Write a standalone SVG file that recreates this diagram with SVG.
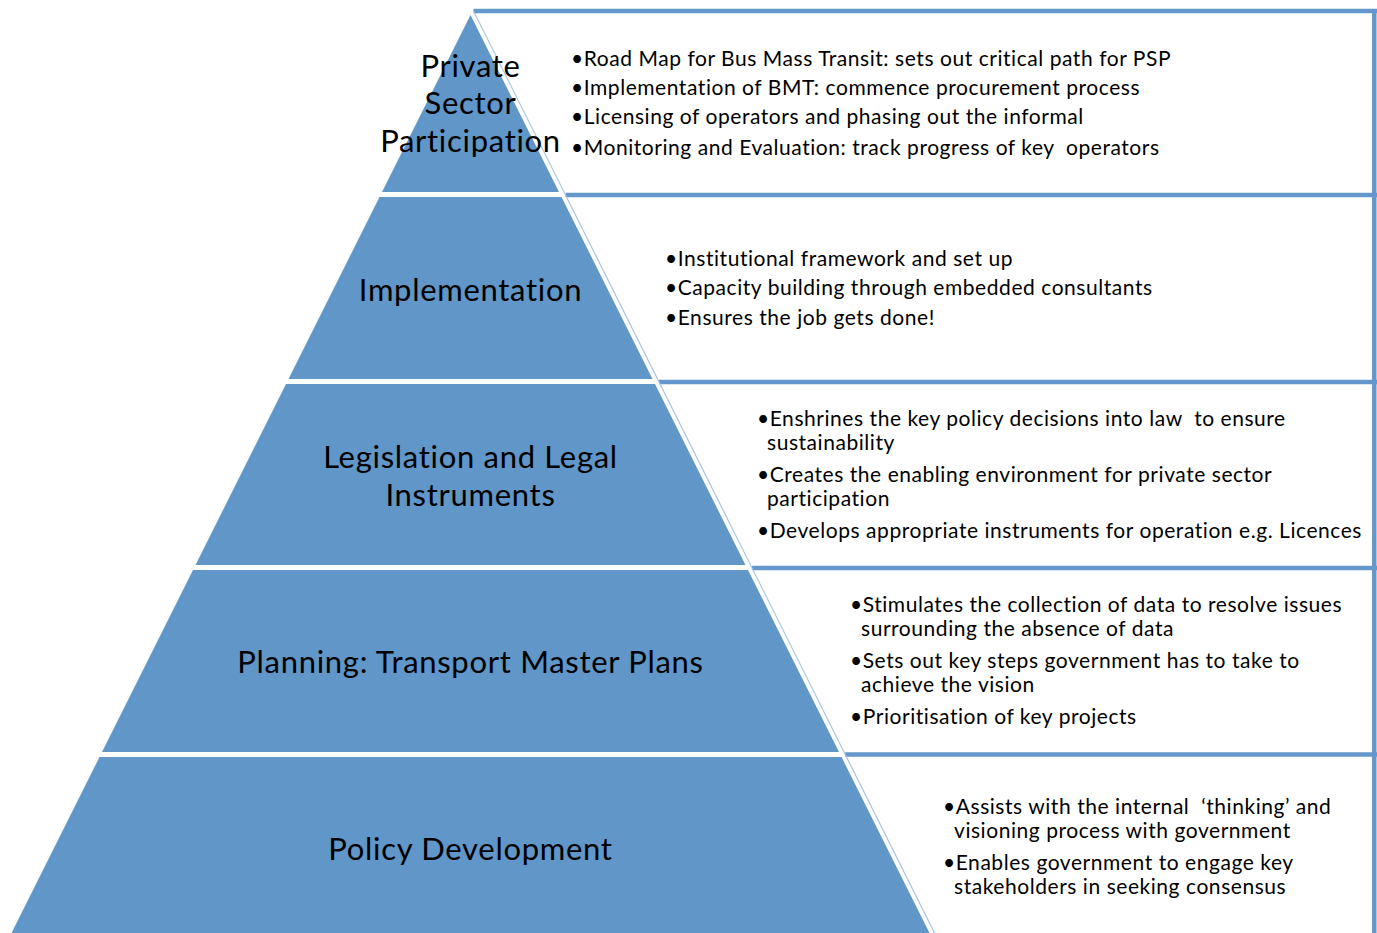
<svg xmlns="http://www.w3.org/2000/svg" width="1377" height="933" viewBox="0 0 1377 933">
<style>
.tier{fill:#6096C8;}
.bar{stroke:#6497CB;stroke-width:4.5;fill:none;}
.thin{stroke:#A9C5E4;stroke-width:1.2;fill:none;}
.lab{font-family:Lato,"Liberation Sans",sans-serif;font-size:31px;letter-spacing:0.7px;fill:#000;text-anchor:middle;}
.txt{font-family:Lato,"Liberation Sans",sans-serif;font-size:21px;letter-spacing:0.55px;fill:#000;white-space:pre;}
</style>
<rect width="1377" height="933" fill="#fff"/>
<g id="boxes">
<line class="bar" x1="473.5" y1="11" x2="1377" y2="11"/>
<line class="bar" x1="565.5" y1="195" x2="1377" y2="195"/>
<line class="bar" x1="659" y1="382" x2="1377" y2="382"/>
<line class="bar" x1="752" y1="568" x2="1377" y2="568"/>
<line class="bar" x1="845" y1="754.5" x2="1377" y2="754.5"/>
<line class="bar" x1="1374.3" y1="9" x2="1374.3" y2="933" stroke-width="5"/>
<line class="thin" x1="473.5" y1="11" x2="937" y2="938"/>
</g>
<g id="tier-psp">
<polygon class="tier" points="470.5,15 559,192 382,192"/>
<text class="lab" x="470.5" y="77">Private</text>
<text class="lab" x="470.5" y="114">Sector</text>
<text class="lab" x="470.5" y="152">Participation</text>
<text class="txt" x="571" y="66">•Road Map for Bus Mass Transit: sets out critical path for PSP</text>
<text class="txt" x="571" y="95">•Implementation of BMT: commence procurement process</text>
<text class="txt" x="571" y="124">•Licensing of operators and phasing out the informal</text>
<text class="txt" x="571" y="155">•Monitoring and Evaluation: track progress of key  operators</text>
</g>
<g id="tier-implementation">
<polygon class="tier" points="379.5,197 561.5,197 652.5,379 288.5,379"/>
<text class="lab" x="470.5" y="301">Implementation</text>
<text class="txt" x="665" y="266">•Institutional framework and set up</text>
<text class="txt" x="665" y="295">•Capacity building through embedded consultants</text>
<text class="txt" x="665" y="325">•Ensures the job gets done!</text>
</g>
<g id="tier-legislation">
<polygon class="tier" points="286,384 655,384 745.5,565 195.5,565"/>
<text class="lab" x="470.5" y="468">Legislation and Legal</text>
<text class="lab" x="470.5" y="506">Instruments</text>
<text class="txt" x="757" y="426">•Enshrines the key policy decisions into law  to ensure</text>
<text class="txt" x="767" y="450">sustainability</text>
<text class="txt" x="757" y="482">•Creates the enabling environment for private sector</text>
<text class="txt" x="767" y="506">participation</text>
<text class="txt" x="757" y="538">•Develops appropriate instruments for operation e.g. Licences</text>
</g>
<g id="tier-planning">
<polygon class="tier" points="193,570 748,570 839,752 102,752"/>
<text class="lab" x="470.5" y="673">Planning: Transport Master Plans</text>
<text class="txt" x="850" y="612">•Stimulates the collection of data to resolve issues</text>
<text class="txt" x="861" y="636">surrounding the absence of data</text>
<text class="txt" x="850" y="668">•Sets out key steps government has to take to</text>
<text class="txt" x="861" y="692">achieve the vision</text>
<text class="txt" x="850" y="724">•Prioritisation of key projects</text>
</g>
<g id="tier-policy">
<polygon class="tier" points="99.5,757 841.5,757 933,940 8,940"/>
<text class="lab" x="470.5" y="860">Policy Development</text>
<text class="txt" x="943" y="814">•Assists with the internal  ‘thinking’ and</text>
<text class="txt" x="954" y="838">visioning process with government</text>
<text class="txt" x="943" y="870">•Enables government to engage key</text>
<text class="txt" x="954" y="894">stakeholders in seeking consensus</text>
</g>
</svg>
